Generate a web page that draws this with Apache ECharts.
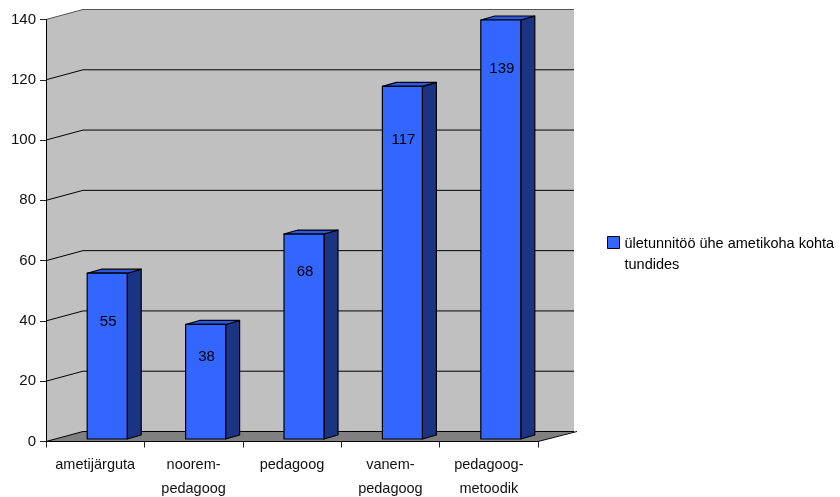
<!DOCTYPE html>
<html><head><meta charset="utf-8">
<style>html,body{margin:0;padding:0;background:#fff}#c{width:840px;height:497px}</style>
<script src="https://cdn.jsdelivr.net/npm/echarts@6/dist/echarts.min.js"></script>
</head><body><div id="c"></div>
<script>
const categories = ['ametijärguta','noorem-\npedagoog','pedagoog','vanem-\npedagoog','pedagoog-\nmetoodik'];
const values = [55,38,68,117,139];
const yTicks = [0,20,40,60,80,100,120,140];
const seriesName = 'ületunnitöö ühe ametikoha kohta tundides';

// style constants
const DX = 37, DY = -10;
const labelDrop = [49,32,38,54,49];
const FONT = '"Liberation Sans", Arial, sans-serif';
const chart = echarts.init(document.getElementById('c'), null, {renderer:'canvas'});

function wallItem(params, api){
  const v = api.value(0);
  const cs = params.coordSys;
  const x0 = cs.x, x1 = cs.x + cs.width;
  const y = api.coord([0, v])[1];
  const children = [];
  if (params.dataIndex === 0){
    const yb = y, yt = api.coord([0, yTicks[yTicks.length-1]])[1];
    children.push({type:'polygon',shape:{points:[[x0,yb],[x0,yt],[x0+DX,yt+DY],[x0+DX,yb+DY]]},style:{fill:'#c0c0c0'}});
    children.push({type:'polygon',shape:{points:[[x0+DX,yb+DY],[x0+DX,yt+DY],[x1+DX-1,yt+DY],[x1+DX-1,yb+DY]]},style:{fill:'#c0c0c0'}});
    children.push({type:'polygon',shape:{points:[[x0,yb],[x0+DX,yb+DY],[x1+DX,yb+DY],[x1,yb]]},style:{fill:'#808080'}});
  }
  const top = v === yTicks[yTicks.length-1];
  children.push({type:'polyline',shape:{points:[[x0,y],[x0+DX,y+DY],[x1+DX-1,y+DY]]},
    style:{fill:null,stroke:top?'#555':'#000',lineWidth:1}});
  if (params.dataIndex === 0){
    children.push({type:'line',shape:{x1:x1,y1:y,x2:x1+DX+2,y2:y+DY},style:{stroke:'#000',lineWidth:1}});
  }
  return {type:'group',children};
}

function barItem(params, api){
  const i = api.value(0);
  const v = api.value(1);
  const cat = api.coord([i,0]);
  const w = 40, dx = 14, dy = -4;
  const xl = cat[0] + 12 - w/2, xr = xl + w;
  const yb = cat[1] - 2.5;
  const yt = api.coord([i,v])[1] - 2.5;
  const line = {stroke:'#000',lineWidth:1.2,lineJoin:'round'};
  return {type:'group',children:[
    {type:'polygon',shape:{points:[[xr,yb],[xr,yt],[xr+dx,yt+dy],[xr+dx,yb+dy]]},style:{fill:'#1a3382',...line}},
    {type:'polygon',shape:{points:[[xl,yt],[xl+dx,yt+dy],[xr+dx,yt+dy],[xr,yt]]},style:{fill:'#2d59e0',...line}},
    {type:'rect',shape:{x:xl,y:yt,width:w,height:yb-yt},style:{fill:'#3366ff',...line}},
    {type:'text',x:xl+w/2+1,y:yt+labelDrop[i],style:{text:String(v),fill:'#000',font:'15px '+FONT,align:'center',verticalAlign:'middle'}}
  ]};
}

chart.setOption({
  animation:false,
  backgroundColor:'#fff',
  grid:{left:46,top:19.5,width:492,height:422,outerBoundsMode:'none'},
  legend:{
    show:true,left:607,top:233,orient:'vertical',padding:0,
    data:[{name:seriesName,icon:'path://M0 0H11V11H0Z M0 32L0 32'}],
    itemWidth:12,itemHeight:37,itemGap:0,selectedMode:false,
    formatter:n=>'ületunnitöö ühe ametikoha kohta\ntundides',
    textStyle:{color:'#000',fontFamily:FONT,fontSize:14.5,lineHeight:21},
    itemStyle:{color:'#3366ff',borderColor:'#000',borderWidth:1}
  },
  xAxis:{type:'category',data:categories,z:5,boundaryGap:true,
    axisLine:{lineStyle:{color:'#000',width:1}},
    axisTick:{show:true,alignWithLabel:false,length:6,lineStyle:{color:'#222'}},
    axisLabel:{color:'#111',fontFamily:FONT,fontSize:14.5,lineHeight:24,margin:11,interval:0},
    splitLine:{show:false}},
  yAxis:{type:'value',min:0,max:140,interval:20,z:5,
    axisLine:{show:true,lineStyle:{color:'#000',width:1}},
    axisTick:{show:true,length:6,lineStyle:{color:'#222'}},
    axisLabel:{color:'#111',fontFamily:FONT,fontSize:15,margin:10},
    splitLine:{show:false}},
  series:[
    {type:'custom',silent:true,z:1,data:yTicks.map(v=>[v]),encode:{y:0},renderItem:wallItem,clip:false,legendHoverLink:false},
    {type:'custom',name:seriesName,z:3,data:values.map((v,i)=>[i,v]),encode:{x:0,y:1},renderItem:barItem,clip:false,
     itemStyle:{color:'#3366ff',borderColor:'#000',borderWidth:1}}
  ]
});
</script></body></html>
